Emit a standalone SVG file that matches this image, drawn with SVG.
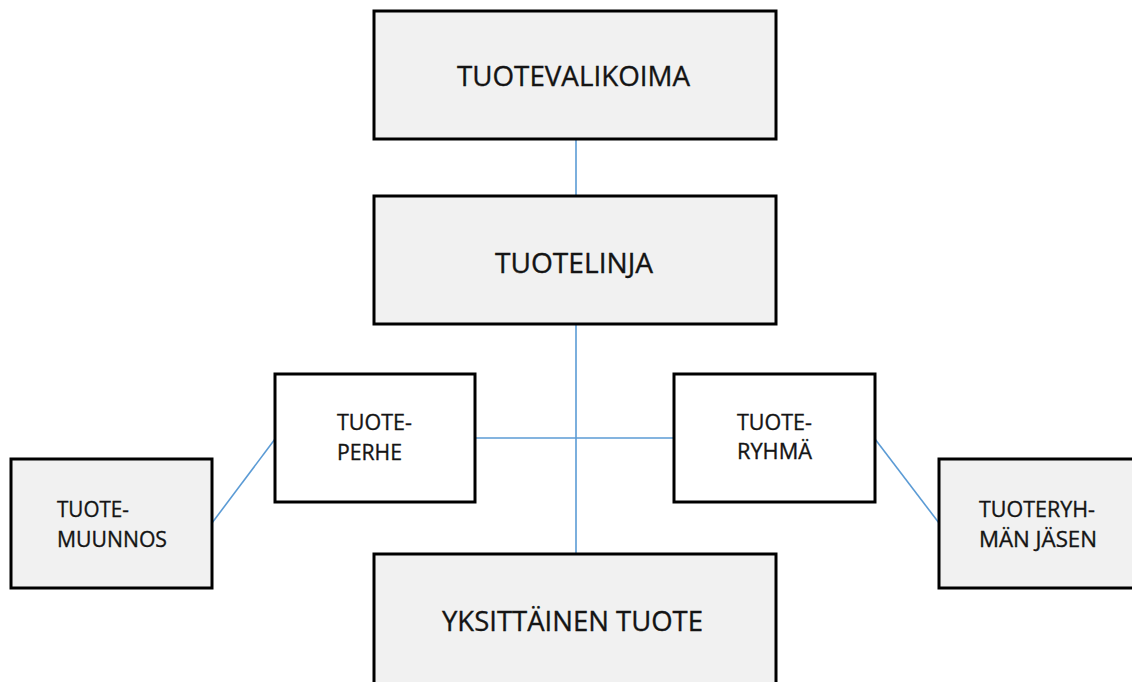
<svg xmlns="http://www.w3.org/2000/svg" width="1132" height="682" viewBox="0 0 1132 682">
  <style>
    .box { stroke: #000; stroke-width: 3; }
    .grey { fill: #f1f1f1; }
    .white { fill: #fff; }
    .lbl { font-family: "Open Sans", "Liberation Sans", sans-serif; fill: #141414; stroke: #141414; stroke-width: 0.35; }
    .big { font-size: 28px; }
    .small { font-size: 22px; }
    .link { stroke: #5b9bd5; stroke-width: 1.6; fill: none; }
  </style>
  <rect width="1132" height="682" fill="#fff"/>

  <g id="connectors">
    <line class="link" x1="576" y1="139" x2="576" y2="196"/>
    <line class="link" x1="576" y1="324" x2="576" y2="554"/>
    <line class="link" x1="475" y1="438" x2="675" y2="438"/>
    <line class="link" x1="212" y1="523" x2="275" y2="439"/>
    <line class="link" x1="875" y1="439" x2="939" y2="523"/>
  </g>

  <g id="tuotevalikoima">
    <rect class="box grey" x="374" y="11" width="402" height="128"/>
    <text class="lbl big" x="457" y="86" textLength="233" lengthAdjust="spacingAndGlyphs">TUOTEVALIKOIMA</text>
  </g>

  <g id="tuotelinja">
    <rect class="box grey" x="374" y="196" width="402" height="128"/>
    <text class="lbl big" x="495" y="273" textLength="158" lengthAdjust="spacingAndGlyphs">TUOTELINJA</text>
  </g>

  <g id="tuoteperhe">
    <rect class="box white" x="275" y="374" width="200" height="128"/>
    <text class="lbl small" x="337" y="430" textLength="75" lengthAdjust="spacingAndGlyphs">TUOTE-</text>
    <text class="lbl small" x="337" y="460" textLength="65" lengthAdjust="spacingAndGlyphs">PERHE</text>
  </g>

  <g id="tuoteryhma">
    <rect class="box white" x="674" y="374" width="201" height="128"/>
    <text class="lbl small" x="737" y="430" textLength="75" lengthAdjust="spacingAndGlyphs">TUOTE-</text>
    <text class="lbl small" x="737" y="459" textLength="75" lengthAdjust="spacingAndGlyphs">RYHMÄ</text>
  </g>

  <g id="tuotemuunnos">
    <rect class="box grey" x="11" y="459" width="201" height="129"/>
    <text class="lbl small" x="57" y="517" textLength="72" lengthAdjust="spacingAndGlyphs">TUOTE-</text>
    <text class="lbl small" x="57" y="547" textLength="110" lengthAdjust="spacingAndGlyphs">MUUNNOS</text>
  </g>

  <g id="tuoteryhman-jasen">
    <rect class="box grey" x="939" y="459" width="210" height="129"/>
    <text class="lbl small" x="979" y="517" textLength="116" lengthAdjust="spacingAndGlyphs">TUOTERYH-</text>
    <text class="lbl small" x="979" y="547" textLength="118" lengthAdjust="spacingAndGlyphs">MÄN JÄSEN</text>
  </g>

  <g id="yksittainen-tuote">
    <rect class="box grey" x="374" y="554" width="402" height="140"/>
    <text class="lbl big" x="442" y="631" textLength="261" lengthAdjust="spacingAndGlyphs">YKSITTÄINEN TUOTE</text>
  </g>
</svg>
